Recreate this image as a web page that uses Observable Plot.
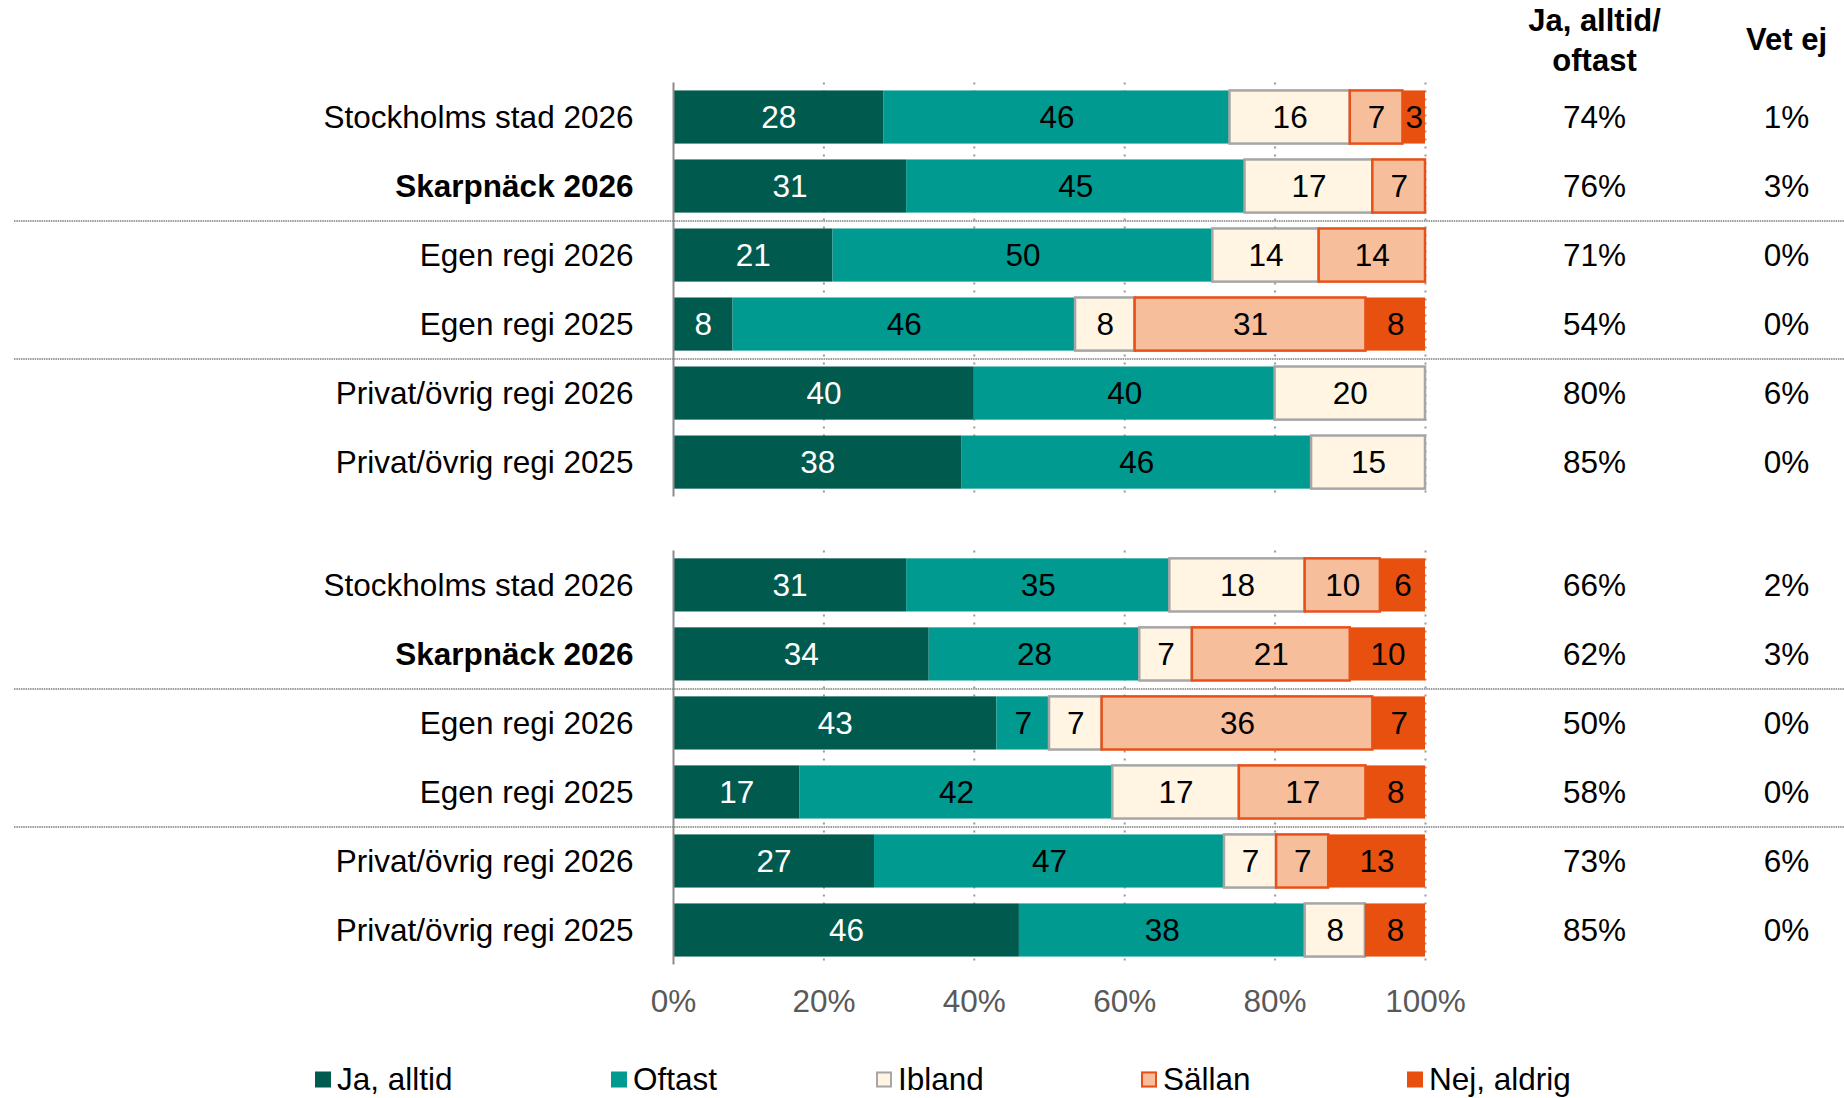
<!DOCTYPE html>
<html>
<head>
<meta charset="utf-8">
<script src="https://cdn.jsdelivr.net/npm/d3@7"></script>
<script src="https://cdn.jsdelivr.net/npm/@observablehq/plot@0.6"></script>
<style>
  html, body { margin: 0; padding: 0; background: #fff; overflow: hidden; }
  body { width: 1844px; height: 1098px; font-family: "Liberation Sans", Arial, sans-serif; }
  #chart svg { display: block; }
  #legend { position: relative; width: 1844px; height: 58px; }
  .item { position: absolute; top: 39px; transform: translateY(-50%); display: flex; align-items: center; font-size: 31.5px; color: #000; white-space: nowrap; }
  .sw { width: 16px; height: 16px; box-sizing: border-box; margin-right: 6px; }
</style>
</head>
<body>
<div id="chart"></div>
<div id="legend"></div>
<script>
// ---- data ----
const categories = ["Stockholms stad 2026", "Skarpnäck 2026", "Egen regi 2026", "Egen regi 2025", "Privat/övrig regi 2026", "Privat/övrig regi 2025"];
const boldCategory = "Skarpnäck 2026";
const groups = ["Fråga 1", "Fråga 2"];
const responses = ["Ja, alltid", "Oftast", "Ibland", "Sällan", "Nej, aldrig"];

const values1 = [
  [28, 46, 16, 7, 3],
  [31, 45, 17, 7, 0],
  [21, 50, 14, 14, 0],
  [8, 46, 8, 31, 8],
  [40, 40, 20, 0, 0],
  [38, 46, 15, 0, 0]
];
const values2 = [
  [31, 35, 18, 10, 6],
  [34, 28, 7, 21, 10],
  [43, 7, 7, 36, 7],
  [17, 42, 17, 17, 8],
  [27, 47, 7, 7, 13],
  [46, 38, 8, 0, 8]
];
const jaOftast1 = ["74%", "76%", "71%", "54%", "80%", "85%"];
const vetEj1 = ["1%", "3%", "0%", "0%", "6%", "0%"];
const jaOftast2 = ["66%", "62%", "50%", "58%", "73%", "85%"];
const vetEj2 = ["2%", "3%", "0%", "0%", "6%", "0%"];
const headers = ["Ja, alltid/\noftast", "Vet ej"];
const xTicks = [0, 0.2, 0.4, 0.6, 0.8, 1];
const separatorBefore = ["Egen regi 2026", "Privat/övrig regi 2026"];

// ---- styles ----
const fillColors = {"Ja, alltid": "#005a4e", "Oftast": "#009a90", "Ibland": "#fff5e2", "Sällan": "#f7be9c", "Nej, aldrig": "#e8500f"};
const strokeColors = {"Ja, alltid": "none", "Oftast": "none", "Ibland": "#a6a6a6", "Sällan": "#e8501a", "Nej, aldrig": "none"};
const textColors = {"Ja, alltid": "#ffffff", "Oftast": "#000000", "Ibland": "#000000", "Sällan": "#000000", "Nej, aldrig": "#000000"};

// ---- build tables ----
const rows = [];
[values1, values2].forEach((vals, gi) => {
  vals.forEach((r, ci) => {
    r.forEach((v, ri) => {
      if (v > 0) rows.push({group: groups[gi], category: categories[ci], response: responses[ri], value: v});
    });
  });
});
const sideRows = [];
[[jaOftast1, vetEj1], [jaOftast2, vetEj2]].forEach(([ja, ve], gi) => {
  categories.forEach((c, ci) => sideRows.push({group: groups[gi], category: c, ja: ja[ci], vet: ve[ci]}));
});
const sepRows = [];
groups.forEach(g => separatorBefore.forEach(c => sepRows.push({group: g, category: c})));
const headerRows = [{group: groups[0], ja: headers[0], vet: headers[1]}];

const FS = 31.5;
const chart = Plot.plot({
  width: 1844,
  height: 1040,
  marginLeft: 673,
  marginRight: 419,
  marginTop: 82.5,
  marginBottom: 75.5,
  style: {fontFamily: "'Liberation Sans', Arial, sans-serif", fontSize: FS + "px", color: "#000", background: "#fff"},
  x: {domain: [0, 1], label: null},
  y: {domain: categories, paddingInner: 0.23, paddingOuter: 0.115, round: false, label: null},
  fy: {domain: groups, paddingInner: 0.115, paddingOuter: 0, round: false, axis: null, label: null},
  color: {type: "identity"},
  marks: [
    Plot.gridX({ticks: xTicks.slice(1), stroke: "#9a9a9a", strokeOpacity: 1, strokeWidth: 2, strokeDasharray: "2,6"}),
    Plot.ruleY(sepRows, {y: "category", fy: "group", dy: -34.5, insetLeft: -659, insetRight: -419, stroke: "#9c9c9c", strokeWidth: 2, strokeDasharray: "1.5,0.8"}),
    Plot.barX(rows, Plot.stackX({
      x: "value", y: "category", fy: "group", offset: "normalize",
      fill: d => fillColors[d.response],
      stroke: d => strokeColors[d.response],
      strokeWidth: 2.5, inset: 0
    })),
    Plot.ruleX([0], {stroke: "#8c8c8c", strokeWidth: 2}),
    Plot.text(rows, Plot.stackX({
      x: "value", y: "category", fy: "group", offset: "normalize",
      text: d => String(d.value),
      fill: d => textColors[d.response],
      fontSize: FS
    })),
    Plot.text(sideRows, {y: "category", fy: "group", text: "ja", frameAnchor: "right", textAnchor: "middle", dx: 169, fontSize: FS, fill: "#000"}),
    Plot.text(sideRows, {y: "category", fy: "group", text: "vet", frameAnchor: "right", textAnchor: "middle", dx: 361, fontSize: FS, fill: "#000"}),
    Plot.text(headerRows, {fy: "group", text: "ja", frameAnchor: "top-right", textAnchor: "middle", dx: 169, dy: -45, lineAnchor: "middle", lineHeight: 1.3, fontSize: 31, fontWeight: "bold", fill: "#000"}),
    Plot.text(headerRows, {fy: "group", text: "vet", frameAnchor: "top-right", textAnchor: "middle", dx: 361, dy: -43, lineAnchor: "middle", fontSize: 31, fontWeight: "bold", fill: "#000"}),
    Plot.axisY({ticks: categories.filter(c => c !== boldCategory), tickSize: 0, tickPadding: 40, fontSize: FS, fill: "#000", label: null}),
    Plot.axisY({ticks: [boldCategory], tickSize: 0, tickPadding: 40, fontSize: FS, fontWeight: "bold", fill: "#000", label: null}),
    Plot.axisX({ticks: xTicks, tickFormat: d3.format(".0%"), tickSize: 0, tickPadding: 25, fontSize: FS, fill: "#595959", label: null, facetAnchor: "bottom"})
  ]
});
document.getElementById("chart").appendChild(chart);

// ---- legend ----
const legendLeft = [315, 611, 876, 1141, 1407];
const legend = document.getElementById("legend");
responses.forEach((r, i) => {
  const item = document.createElement("div");
  item.className = "item";
  item.style.left = legendLeft[i] + "px";
  const sw = document.createElement("div");
  sw.className = "sw";
  sw.style.background = fillColors[r];
  if (strokeColors[r] !== "none") sw.style.border = "2px solid " + strokeColors[r];
  const lab = document.createElement("span");
  lab.textContent = r;
  item.appendChild(sw);
  item.appendChild(lab);
  legend.appendChild(item);
});
</script>
</body>
</html>
